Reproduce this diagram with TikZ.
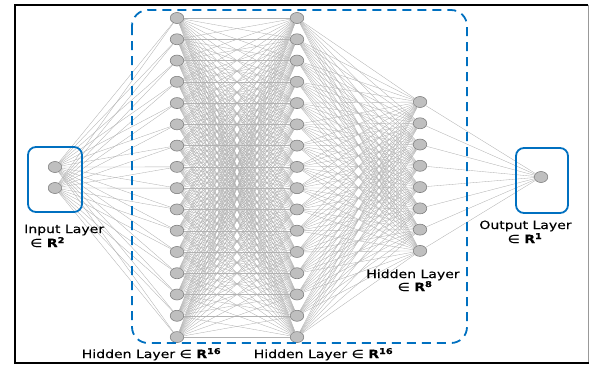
\documentclass[tikz,border=0pt]{standalone}
\usepackage{fontspec}
\newfontfamily\lblfont[FakeStretch=1.23,FakeBold=0.4]{DejaVu Sans}
\usetikzlibrary{shapes.geometric}
\definecolor{boxblue}{RGB}{0,112,192}

\begin{document}
\begin{tikzpicture}[
		x=1pt, y=-1pt,
		neuron/.style	={ ellipse, draw=black!50, fill=black!25,
			line width=0.6pt, inner sep=0pt,
			minimum width=13.5pt, minimum height=11pt
		},
		link/.style	={ draw=black!30, line width=0.35pt },
		layerbox/.style	={ draw=boxblue, line width=1.8pt,
			rounded corners=8pt
		},
		groupbox/.style	={ draw=boxblue, line width=1.8pt,
			dash pattern=on 9pt off 6pt, rounded corners=16pt
		},
		lbl/.style	={ font=\lblfont\fontsize{11.4}{14}\selectfont,
			inner sep=0pt
		},
	]

	\useasboundingbox (0,0) rectangle (589,365);

	% declare the neurons of every layer
	\node (in1) [neuron] at (55,167) {};
	\node (in2) [neuron] at (55,188) {};
	\foreach \i in {1,...,16} {
			\node (ha\i) [neuron] at (177,{18+(\i-1)*21.27}) {};
			\node (hb\i) [neuron] at (297,{18+(\i-1)*21.27}) {};
		}
	\foreach \i in {1,...,8}
		\node (hc\i) [neuron] at (420,{102+(\i-1)*21.27}) {};
	\node (out) [neuron] at (541,177) {};

	% draw connections
	\foreach \i in {1,...,16} {
			\draw [link] (in1) -- (ha\i);
			\draw [link] (in2) -- (ha\i);
			\foreach \j in {1,...,16}
				\draw [link] (ha\i) -- (hb\j);
			\foreach \j in {1,...,8}
				\draw [link] (hb\i) -- (hc\j);
		}
	\foreach \j in {1,...,8}
		\draw [link] (hc\j) -- (out);

	% draw boxes
	\draw [layerbox] (28,147) rectangle (82,212);
	\draw [layerbox] (516,148) rectangle (568,213);
	\draw [groupbox] (132,10) rectangle (467,343);

	% draw labels
	\node [lbl, anchor=base west] at (24,233) {Input Layer};
	\node [lbl, anchor=base west] at (30,247) {∈ \textbf{R\textsuperscript{2}}};
	\node [lbl, anchor=base] at (525.5,229) {Output Layer};
	\node [lbl, anchor=base] at (525,243) {∈ \textbf{R\textsuperscript{1}}};
	\node [lbl, anchor=base] at (413,278) {Hidden Layer};
	\node [lbl, anchor=base] at (415,291) {∈ \textbf{R\textsuperscript{8}}};
	\node [lbl, anchor=base] at (151.5,358) {Hidden Layer ∈ \textbf{R\textsuperscript{16}}};
	\node [lbl, anchor=base] at (323.5,358) {Hidden Layer ∈ \textbf{R\textsuperscript{16}}};

	% draw frame
	\draw [line width=2pt] (588,4.5) -- (15,4.5) -- (15,363) -- (589,363);
	\draw [draw=black!40, line width=1pt] (588,4.5) -- (588,362);

\end{tikzpicture}
\end{document}
